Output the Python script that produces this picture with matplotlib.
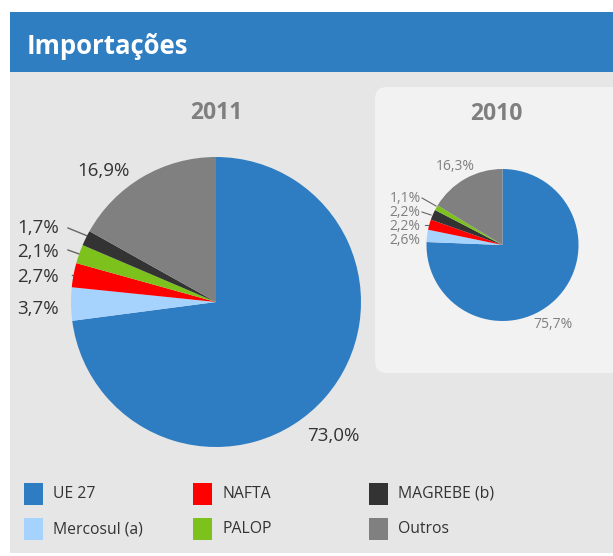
import matplotlib
matplotlib.use("Agg")
import matplotlib.pyplot as plt
from matplotlib.patches import Rectangle, FancyBboxPatch

categories = ["UE 27", "Mercosul (a)", "NAFTA", "PALOP", "MAGREBE (b)", "Outros"]
colors = {"UE 27": "#2e7dc2", "Mercosul (a)": "#a6d3fe", "NAFTA": "#ff0000",
          "PALOP": "#7dc11d", "MAGREBE (b)": "#333333", "Outros": "#808080"}

# 2011 values (wedge order clockwise from top)
order_2011 = ["UE 27", "Mercosul (a)", "NAFTA", "PALOP", "MAGREBE (b)", "Outros"]
values_2011 = [73.0, 3.7, 2.7, 2.1, 1.7, 16.9]
labels_2011 = ["73,0%", "3,7%", "2,7%", "2,1%", "1,7%", "16,9%"]

# 2010 values
order_2010 = ["UE 27", "Mercosul (a)", "NAFTA", "MAGREBE (b)", "PALOP", "Outros"]
values_2010 = [75.7, 2.6, 2.2, 2.2, 1.1, 16.3]
labels_2010 = ["75,7%", "2,6%", "2,2%", "2,2%", "1,1%", "16,3%"]

W, H = 613, 556
fig = plt.figure(figsize=(W / 100, H / 100), dpi=100)
fig.patch.set_facecolor("white")
bg = fig.add_axes([0, 0, 1, 1])
bg.set_xlim(0, W)
bg.set_ylim(H, 0)
bg.axis("off")

FONT = ["Open Sans", "DejaVu Sans"]

# background panels
bg.add_patch(Rectangle((10, 72), W - 10, 481, facecolor="#e6e6e6", edgecolor="none"))
bg.add_patch(Rectangle((10, 12), W - 10, 60, facecolor="#2f7ec1", edgecolor="none"))
bg.text(27, 44, "Importações", color="white", fontsize=18.5, fontweight="bold",
        family=FONT, va="center_baseline", ha="left")
bg.add_patch(FancyBboxPatch((375, 87), 250, 286, boxstyle="round,pad=0,rounding_size=12",
                            facecolor="#f2f2f2", edgecolor="none"))

def px_axes(cx, cy, r):
    return fig.add_axes([(cx - r) / W, (H - cy - r) / H, 2 * r / W, 2 * r / H])

# 2011 pie
ax1 = px_axes(216, 302, 145)
ax1.pie(values_2011, colors=[colors[c] for c in order_2011], startangle=90,
        counterclock=False, radius=1, wedgeprops=dict(linewidth=0))
ax1.set_xlim(-1, 1); ax1.set_ylim(-1, 1); ax1.axis("off")

# 2010 pie
ax2 = px_axes(502.5, 245, 76)
ax2.pie(values_2010, colors=[colors[c] for c in order_2010], startangle=90,
        counterclock=False, radius=1, wedgeprops=dict(linewidth=0))
ax2.set_xlim(-1, 1); ax2.set_ylim(-1, 1); ax2.axis("off")

# titles
bg.text(216.5, 110, "2011", color="#7f7f7f", fontsize=16.5, fontweight="bold",
        family=FONT, ha="center", va="center_baseline")
bg.text(496, 111, "2010", color="#7f7f7f", fontsize=16.5, fontweight="bold",
        family=FONT, ha="center", va="center_baseline")

# 2011 labels
lc = "#333333"
pos_2011 = [(333, 434), (38, 307), (38, 275), (38, 250), (38, 226), (103, 168.5)]
for lab, (x, y) in zip(labels_2011, pos_2011):
    bg.text(x, y, lab, color=lc, fontsize=13.5, family=FONT, ha="center",
            va="center_baseline")
for (x0, y0, x1, y1) in [(68, 228, 90, 237), (68, 250, 82, 255), (72, 275, 76, 275)]:
    bg.plot([x0, x1], [y0, y1], color="#666666", lw=1)

# 2010 labels
lc2 = "#7f7f7f"
pos_2010 = [(553, 323), (405, 239), (405, 224), (405, 210), (405, 196), (455, 165)]
for lab, (x, y) in zip(labels_2010, pos_2010):
    bg.text(x, y, lab, color=lc2, fontsize=10, family=FONT, ha="center",
            va="center_baseline")
for (x0, y0, x1, y1) in [(422, 198, 436, 206), (422, 212, 431, 215), (425, 225, 428, 225)]:
    bg.plot([x0, x1], [y0, y1], color="#666666", lw=0.8)

# legend
leg_pos = [(24, 483), (24, 518), (193, 483), (193, 518), (369, 483), (369, 518)]
leg_order = ["UE 27", "Mercosul (a)", "NAFTA", "PALOP", "MAGREBE (b)", "Outros"]
for c, (x, y) in zip(leg_order, leg_pos):
    bg.add_patch(Rectangle((x, y), 19, 22, facecolor=colors[c], edgecolor="none"))
    bg.text(x + 29, y + 11, c, color="#333333", fontsize=11.3, family=FONT,
            ha="left", va="center")

fig.savefig("out.png", dpi=100, facecolor="white")
